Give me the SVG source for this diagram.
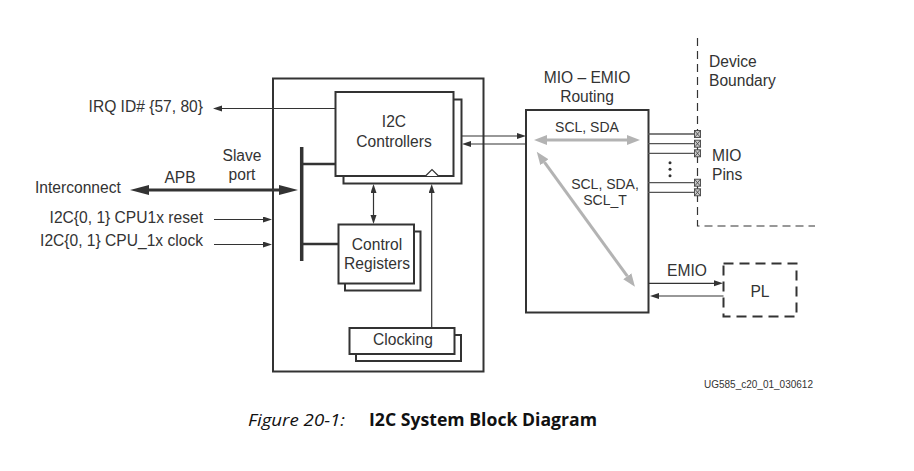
<svg xmlns="http://www.w3.org/2000/svg" width="914" height="471" viewBox="0 0 914 471">
<style>
text{font-family:"Liberation Sans",Arial,sans-serif;font-size:15.6px;fill:#333}
.s{font-size:14px}
.m{text-anchor:middle}
.e{text-anchor:end}
.box{fill:#fff;stroke:#333;stroke-width:2}
.ln{stroke:#333;stroke-width:1.2;fill:none}
.gr{stroke:#b3b3b3;stroke-width:3;fill:none}
.pin{stroke:#555;stroke-width:1.3}
.pb{fill:#c8c8c8;stroke:#444;stroke-width:0.9}
.px{stroke:#444;stroke-width:0.8}
</style>
<defs>
<marker id="ah" markerUnits="userSpaceOnUse" markerWidth="10" markerHeight="7" refX="0" refY="3" orient="auto-start-reverse"><path d="M0,0 L9,3 L0,6 z" fill="#333"/></marker>
<marker id="gh" markerUnits="userSpaceOnUse" markerWidth="14" markerHeight="11" refX="0" refY="5" orient="auto-start-reverse"><path d="M0,0 L13,5 L0,10 z" fill="#b3b3b3"/></marker>
</defs>
<rect width="914" height="471" fill="#fff"/>

<g id="device-boundary">
<path d="M697.5,38 V226 H815" fill="none" stroke="#333" stroke-width="1.2" stroke-dasharray="8,5"/>
<text x="709" y="66.5">Device</text>
<text x="709" y="85.5">Boundary</text>
</g>

<g id="i2c-block">
<rect class="box" x="273" y="78.5" width="210.5" height="293"/>
</g>

<g id="i2c-controllers">
<rect class="box" x="343.5" y="99.5" width="118" height="84"/>
<rect class="box" x="335.5" y="92" width="118" height="84"/>
<polyline points="425.5,176 432,169.5 438.5,176" fill="#fff" stroke="#333" stroke-width="1.2"/>
<text class="m" x="394" y="127">I2C</text>
<text class="m" x="394" y="147">Controllers</text>
</g>

<g id="control-registers">
<rect class="box" x="345" y="231.5" width="75.5" height="59"/>
<rect class="box" x="338.5" y="224.5" width="75.5" height="59"/>
<text class="m" x="377" y="250">Control</text>
<text class="m" x="377" y="269">Registers</text>
</g>

<g id="clocking">
<rect class="box" x="356" y="335" width="105" height="26"/>
<rect class="box" x="349.5" y="328" width="105" height="26"/>
<text class="m" x="403" y="345">Clocking</text>
</g>

<g id="mio-emio">
<rect class="box" x="526" y="110" width="122.5" height="202.5"/>
<text class="m" x="587" y="83">MIO – EMIO</text>
<text class="m" x="587" y="102">Routing</text>
<text class="m s" x="587" y="132">SCL, SDA</text>
<text class="m s" x="605" y="189">SCL, SDA,</text>
<text class="m s" x="605" y="205">SCL_T</text>
</g>

<g id="pl">
<rect x="723.5" y="263.5" width="73" height="53" fill="none" stroke="#333" stroke-width="2" stroke-dasharray="10,6"/>
<text class="m" x="760" y="296.5">PL</text>
</g>

<g id="mio-pins">
<line class="pin" x1="648" y1="134" x2="694.5" y2="134"/>
<line class="pin" x1="648" y1="143.7" x2="694.5" y2="143.7"/>
<line class="pin" x1="648" y1="153.3" x2="694.5" y2="153.3"/>
<line class="pin" x1="648" y1="182.7" x2="694.5" y2="182.7"/>
<line class="pin" x1="648" y1="192.3" x2="694.5" y2="192.3"/>
<g>
<rect class="pb" x="694.5" y="130.5" width="6" height="7"/><path class="px" d="M694.5,130.5 l6,7 M700.5,130.5 l-6,7"/>
<rect class="pb" x="694.5" y="140.2" width="6" height="7"/><path class="px" d="M694.5,140.2 l6,7 M700.5,140.2 l-6,7"/>
<rect class="pb" x="694.5" y="149.8" width="6" height="7"/><path class="px" d="M694.5,149.8 l6,7 M700.5,149.8 l-6,7"/>
<rect class="pb" x="694.5" y="179.2" width="6" height="7"/><path class="px" d="M694.5,179.2 l6,7 M700.5,179.2 l-6,7"/>
<rect class="pb" x="694.5" y="188.8" width="6" height="7"/><path class="px" d="M694.5,188.8 l6,7 M700.5,188.8 l-6,7"/>
</g>
<circle cx="670" cy="162.7" r="1.5" fill="#333"/>
<circle cx="670" cy="169.2" r="1.5" fill="#333"/>
<circle cx="670" cy="175.7" r="1.5" fill="#333"/>
<text x="712" y="160.5">MIO</text>
<text x="712" y="180">Pins</text>
</g>

<g id="slave-port">
<line x1="301.7" y1="147" x2="301.7" y2="261" stroke="#333" stroke-width="3.5"/>
<text class="m" x="242" y="160.5">Slave</text>
<text class="m" x="242" y="180">port</text>
</g>

<g id="connectors">
<line x1="301.7" y1="164" x2="335.5" y2="164" stroke="#333" stroke-width="2.5"/>
<line x1="301.7" y1="244" x2="338.5" y2="244" stroke="#333" stroke-width="2.5"/>
<line x1="148" y1="190" x2="280" y2="190" stroke="#333" stroke-width="3.2"/>
<polygon points="130,190 149,185 149,195" fill="#333"/>
<polygon points="298,190 279,185 279,195" fill="#333"/>
<line class="ln" x1="335.5" y1="108.5" x2="222" y2="108.5" marker-end="url(#ah)"/>
<line class="ln" x1="214" y1="219.5" x2="263" y2="219.5" marker-end="url(#ah)"/>
<line class="ln" x1="214" y1="244.5" x2="263" y2="244.5" marker-end="url(#ah)"/>
<line class="ln" x1="461.5" y1="136" x2="517" y2="136" marker-end="url(#ah)"/>
<line class="ln" x1="526" y1="144" x2="471" y2="144" marker-end="url(#ah)"/>
<line class="ln" x1="373.5" y1="193" x2="373.5" y2="215" marker-start="url(#ah)" marker-end="url(#ah)"/>
<line class="ln" x1="431.7" y1="328" x2="431.7" y2="193" marker-end="url(#ah)"/>
<line class="ln" x1="648.5" y1="283.3" x2="714" y2="283.3" marker-end="url(#ah)"/>
<line class="ln" x1="723.5" y1="296" x2="659" y2="296" marker-end="url(#ah)"/>
<line class="gr" x1="547" y1="140" x2="627" y2="140" marker-start="url(#gh)" marker-end="url(#gh)"/>
<line class="gr" x1="544.4" y1="162.2" x2="627.3" y2="276.2" marker-start="url(#gh)" marker-end="url(#gh)"/>
<text x="180" y="182.5" class="m">APB</text>
<text x="687" y="275.5" class="m">EMIO</text>
</g>

<text class="e" x="203" y="112">IRQ ID# {57, 80}</text>
<text x="35" y="192.5">Interconnect</text>
<text class="e" x="203" y="222.5">I2C{0, 1} CPU1x reset</text>
<text class="e" x="203" y="246">I2C{0, 1} CPU_1x clock</text>
<text x="704" y="387.5" style="font-size:10px">UG585_c20_01_030612</text>
<text x="248" y="426" style="font-family:'Open Sans',sans-serif;font-size:17px;font-style:italic;fill:#111" textLength="97" lengthAdjust="spacingAndGlyphs">Figure 20-1:</text>
<text x="369" y="426" style="font-family:'Open Sans',sans-serif;font-size:17px;font-weight:bold;fill:#111" textLength="228" lengthAdjust="spacingAndGlyphs">I2C System Block Diagram</text>
</svg>
